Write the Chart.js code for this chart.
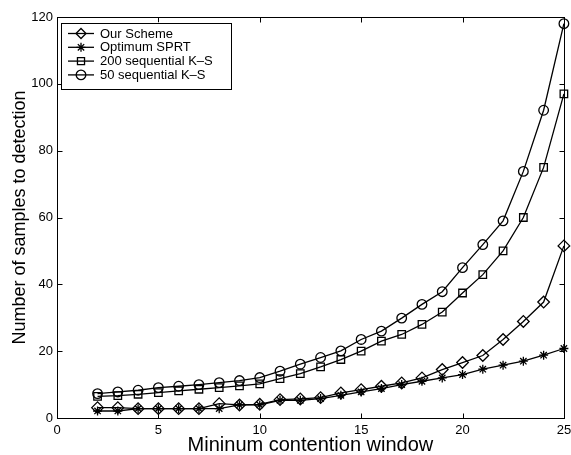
<!DOCTYPE html>
<html>
<head>
<meta charset="utf-8">
<script src="https://cdn.jsdelivr.net/npm/chart.js"></script>
<style>
html,body{margin:0;padding:0;background:#fff;}
#wrap{width:571px;height:455px;}
</style>
</head>
<body>
<div id="wrap"><canvas id="c" width="571" height="455"></canvas></div>
<script>
const windows = [2,3,4,5,6,7,8,9,10,11,12,13,14,15,16,17,18,19,20,21,22,23,24,25];
const ourScheme = [3.1,3.1,2.8,2.8,2.8,2.8,4.3,3.9,4.1,5.5,5.7,6.1,7.5,8.5,9.5,10.5,12.0,14.5,16.6,18.7,23.5,28.9,34.7,51.5];
const optimumSPRT = [2.1,2.1,2.8,2.8,2.8,2.8,2.8,3.9,3.9,5.3,5.3,5.8,6.8,7.8,8.8,10.0,11.0,12.0,13.0,14.6,15.8,17.0,18.8,20.8];
const ks200 = [6.5,6.7,7.1,7.6,8.1,8.6,9.1,9.6,10.2,11.8,13.3,15.3,17.5,20.0,23.0,25.0,28.0,31.7,37.4,42.9,50.0,60.0,75.0,97.0];
const ks50 = [7.3,7.8,8.3,9.1,9.5,10.0,10.6,11.2,12.1,14.0,16.1,18.1,20.1,23.5,26.0,29.9,34.0,37.8,45.0,51.9,59.0,73.8,92.1,118.0];
const seriesLabels = ['Our Scheme','Optimum SPRT','200 sequential K\u2013S','50 sequential K\u2013S'];
const xTicks = [0,5,10,15,20,25];
const yTicks = [0,20,40,60,80,100,120];
const xTitle = 'Mininum contention window';
const yTitle = 'Number of samples to detection';

const FONT = "'Liberation Sans', Arial, Helvetica, sans-serif";
const styles = [
  {pointStyle:'rectRot', radius:5.8},
  {pointStyle:'star', radius:4.5},
  {pointStyle:'rect', radius:5.3},
  {pointStyle:'circle', radius:4.8}
];
const seriesData = [ourScheme, optimumSPRT, ks200, ks50];

const datasets = seriesData.map((arr, i) => ({
  label: seriesLabels[i],
  data: windows.map((x, j) => ({x: x, y: arr[j]})),
  borderColor: '#000',
  backgroundColor: 'rgba(0,0,0,0)',
  borderWidth: 1.3,
  pointStyle: styles[i].pointStyle,
  pointRadius: styles[i].radius,
  pointBorderWidth: 1.3,
  pointBorderColor: '#000',
  pointBackgroundColor: 'rgba(0,0,0,0)',
  tension: 0,
  fill: false,
  clip: false
}));

function fallbackPoint(ctx, style, r, x, y) {
  ctx.beginPath();
  if (style === 'circle') { ctx.arc(x, y, r, 0, Math.PI*2); }
  else if (style === 'rect') { const s = r*Math.SQRT1_2; ctx.rect(x-s, y-s, 2*s, 2*s); }
  else if (style === 'rectRot') { ctx.moveTo(x, y-r); ctx.lineTo(x+r, y); ctx.lineTo(x, y+r); ctx.lineTo(x-r, y); ctx.closePath(); }
  else if (style === 'star') {
    for (let k = 0; k < 4; k++) { const a = k*Math.PI/4; ctx.moveTo(x - r*Math.cos(a), y - r*Math.sin(a)); ctx.lineTo(x + r*Math.cos(a), y + r*Math.sin(a)); }
  }
  ctx.stroke();
}

const boxPlugin = {
  id: 'boxTicks',
  beforeDatasetsDraw(chart) {
    const {ctx, chartArea: a, scales} = chart;
    ctx.save();
    ctx.strokeStyle = '#000';
    ctx.lineWidth = 1;
    const L = Math.round(a.left) + 0.5, R = Math.round(a.right) + 0.5, T = Math.round(a.top) + 0.5, B = Math.round(a.bottom) + 0.5;
    ctx.strokeRect(L, T, R - L, B - T);
    const tl = 5;
    ctx.beginPath();
    xTicks.forEach(v => {
      const px = Math.round(scales.x.getPixelForValue(v)) + 0.5;
      ctx.moveTo(px, B); ctx.lineTo(px, B - tl);
      ctx.moveTo(px, T); ctx.lineTo(px, T + tl);
    });
    yTicks.forEach(v => {
      const py = Math.round(scales.y.getPixelForValue(v)) + 0.5;
      ctx.moveTo(L, py); ctx.lineTo(L + tl, py);
      ctx.moveTo(R, py); ctx.lineTo(R - tl, py);
    });
    ctx.stroke();
    ctx.restore();
  },
  afterDraw(chart) {
    const {ctx, chartArea: a} = chart;
    ctx.save();
    const bx = a.left + 4, by = a.top + 5.5, bw = 170, bh = 66;
    ctx.fillStyle = '#fff';
    ctx.fillRect(bx, by, bw, bh);
    ctx.strokeStyle = '#000';
    ctx.lineWidth = 1;
    ctx.strokeRect(Math.round(bx)+0.5, Math.round(by)+0.5, bw, bh);
    ctx.font = '13px ' + FONT;
    ctx.textBaseline = 'middle';
    ctx.textAlign = 'left';
    chart.data.datasets.forEach((ds, i) => {
      const y = by + 11 + i * 13.8;
      const x0 = bx + 7, x1 = bx + 33, xm = (x0 + x1) / 2;
      ctx.strokeStyle = '#000';
      ctx.lineWidth = 1.3;
      ctx.beginPath(); ctx.moveTo(x0, y); ctx.lineTo(x1, y); ctx.stroke();
      const H = (window.Chart && Chart.helpers && Chart.helpers.drawPoint) ? Chart.helpers : null;
      ctx.fillStyle = 'rgba(0,0,0,0)';
      if (H) {
        H.drawPoint(ctx, {pointStyle: ds.pointStyle, radius: Math.min(ds.pointRadius, 5), borderWidth: 1.3, rotation: 0}, xm, y);
      } else {
        fallbackPoint(ctx, ds.pointStyle, Math.min(ds.pointRadius, 5), xm, y);
      }
      ctx.fillStyle = '#000';
      ctx.fillText(ds.label, bx + 39, y + 0.5);
    });
    ctx.restore();
  }
};

new Chart(document.getElementById('c'), {
  type: 'line',
  data: { datasets: datasets },
  options: {
    responsive: false,
    animation: false,
    devicePixelRatio: 1,
    layout: { padding: { left: 0, right: 7, top: 17, bottom: 0 } },
    plugins: { legend: { display: false }, tooltip: { enabled: false } },
    scales: {
      x: {
        type: 'linear', min: 0, max: 25,
        afterFit(s) { s.height = 37; s.paddingLeft = 0; s.paddingRight = 0; },
        afterBuildTicks(s) { s.ticks = xTicks.map(v => ({value: v})); },
        grid: { display: false, drawTicks: false },
        border: { display: false },
        ticks: { color: '#000', font: { family: FONT, size: 13 }, padding: 5, maxRotation: 0, autoSkip: false },
        title: { display: true, text: xTitle, color: '#000', font: { family: FONT, size: 20, lineHeight: 1 }, padding: { top: 0, bottom: 0 } }
      },
      y: {
        type: 'linear', min: 0, max: 120,
        afterFit(s) { s.width = 57; s.paddingTop = 0; s.paddingBottom = 0; },
        afterBuildTicks(s) { s.ticks = yTicks.map(v => ({value: v})); },
        grid: { display: false, drawTicks: false },
        border: { display: false },
        ticks: { color: '#000', font: { family: FONT, size: 13 }, padding: 4, autoSkip: false },
        title: { display: true, text: yTitle, color: '#000', font: { family: FONT, size: 18, lineHeight: 1 }, padding: { top: 11, bottom: 0 } }
      }
    }
  },
  plugins: [boxPlugin]
});
</script>
</body>
</html>
